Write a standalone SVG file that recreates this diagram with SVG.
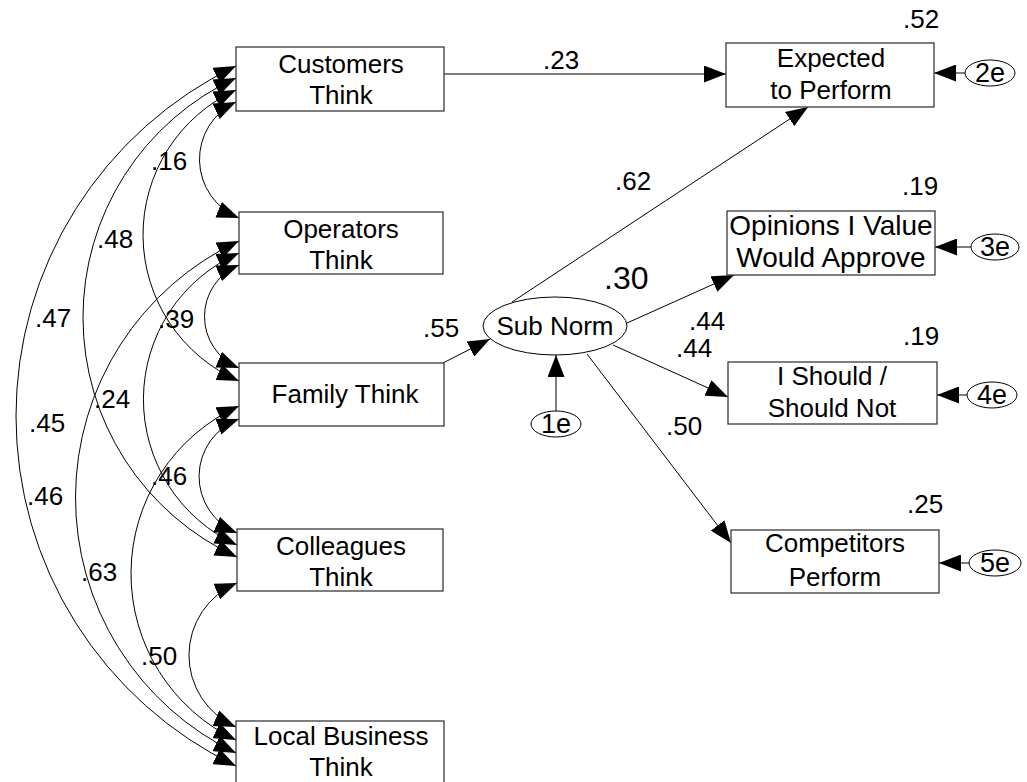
<svg xmlns="http://www.w3.org/2000/svg" width="1027" height="782" viewBox="0 0 1027 782">
  <style>
    .box { fill: #ffffff; stroke: #3a3a3a; stroke-width: 1.3; }
    .lat { fill: #ffffff; stroke: #000000; stroke-width: 1; }
    .txt { font-family: "Liberation Sans", Arial, sans-serif; font-size: 26px; fill: #000000; text-anchor: middle; }
    .wide { font-size: 28px; }
    .res { font-size: 27px; }
    .num { font-family: "Liberation Sans", Arial, sans-serif; font-size: 26px; fill: #000000; }
    .big { font-size: 32px; }
    .edge { fill: none; stroke: #000000; stroke-width: 1; }
    .arr { marker-end: url(#head); }
    .cov { marker-start: url(#head); marker-end: url(#head); }
  </style>
  <defs>
    <marker id="head" markerUnits="userSpaceOnUse" markerWidth="22" markerHeight="17" refX="22" refY="8.5" orient="auto-start-reverse" viewBox="0 0 22 17">
      <path d="M0,0 L22,8.5 L0,17 Z" fill="#000000"/>
    </marker>
  </defs>

  <rect width="1027" height="782" fill="#ffffff"/>

  <!-- connectors -->
  <g id="connectors" class="edge">
    <!-- covariances between the five belief measures -->
    <path class="cov" d="M236,102 A63.3,63.3 0 0 0 239,218"/>
    <path class="cov" d="M236,90 A159.3,159.3 0 0 0 239,381"/>
    <path class="cov" d="M236,78 A263.6,263.6 0 0 0 237,557"/>
    <path class="cov" d="M236,66 A388.4,388.4 0 0 0 236,766"/>
    <path class="cov" d="M239,265 A55.7,55.7 0 0 0 239,368"/>
    <path class="cov" d="M239,253 A160,160 0 0 0 237,545"/>
    <path class="cov" d="M239,241 A283.3,283.3 0 0 0 236,753"/>
    <path class="cov" d="M239,419 A61.2,61.2 0 0 0 237,533"/>
    <path class="cov" d="M239,406 A184.2,184.2 0 0 0 236,740"/>
    <path class="cov" d="M237,583 A78.3,78.3 0 0 0 236,727"/>

    <!-- regression paths -->
    <line class="arr" x1="444" y1="74" x2="726" y2="74"/>
    <line class="arr" x1="443" y1="363" x2="490" y2="339"/>
    <line class="arr" x1="512" y1="302" x2="808" y2="107"/>
    <line class="arr" x1="627" y1="323" x2="734" y2="275"/>
    <line class="arr" x1="613" y1="345" x2="728" y2="397"/>
    <line class="arr" x1="587" y1="354" x2="731" y2="543"/>

    <!-- residual terms -->
    <line class="arr" x1="556" y1="411" x2="556" y2="355"/>
    <line class="arr" x1="965" y1="73" x2="934" y2="73"/>
    <line class="arr" x1="971" y1="247" x2="935" y2="247"/>
    <line class="arr" x1="967" y1="395" x2="937" y2="395"/>
    <line class="arr" x1="969" y1="563" x2="939" y2="563"/>
  </g>

  <!-- observed variables, left column -->
  <g id="customers">
    <rect class="box" x="236" y="47" width="208" height="64"/>
    <text class="txt" x="341" y="73">Customers</text>
    <text class="txt" x="341" y="104">Think</text>
  </g>
  <g id="operators">
    <rect class="box" x="239" y="212" width="204" height="62"/>
    <text class="txt" x="341" y="238">Operators</text>
    <text class="txt" x="341" y="269">Think</text>
  </g>
  <g id="family">
    <rect class="box" x="239" y="363" width="205" height="63"/>
    <text class="txt" x="345" y="403">Family Think</text>
  </g>
  <g id="colleagues">
    <rect class="box" x="237" y="529" width="206" height="62"/>
    <text class="txt" x="341" y="555">Colleagues</text>
    <text class="txt" x="341" y="586">Think</text>
  </g>
  <g id="local-business">
    <rect class="box" x="236" y="721" width="208" height="66"/>
    <text class="txt" x="341" y="745">Local Business</text>
    <text class="txt" x="341" y="776">Think</text>
  </g>

  <!-- latent factor and its residual -->
  <g id="sub-norm">
    <ellipse class="lat" cx="555" cy="326" rx="72" ry="29"/>
    <text class="txt" x="555" y="335">Sub Norm</text>
  </g>
  <g id="e1">
    <ellipse class="lat" cx="556" cy="424" rx="25" ry="13"/>
    <text class="txt res" x="556" y="433">1e</text>
  </g>

  <!-- observed variables, right column -->
  <g id="expected">
    <rect class="box" x="726" y="43" width="208" height="64"/>
    <text class="txt" x="831" y="67">Expected</text>
    <text class="txt" x="831" y="99">to Perform</text>
  </g>
  <g id="opinions">
    <rect class="box" x="727" y="211" width="208" height="64"/>
    <text class="txt wide" x="831" y="235">Opinions I Value</text>
    <text class="txt wide" x="831" y="267">Would Approve</text>
  </g>
  <g id="should">
    <rect class="box" x="728" y="362" width="209" height="62"/>
    <text class="txt" x="832" y="385">I Should /</text>
    <text class="txt" x="832" y="417">Should Not</text>
  </g>
  <g id="competitors">
    <rect class="box" x="731" y="530" width="208" height="63"/>
    <text class="txt" x="835" y="552">Competitors</text>
    <text class="txt" x="835" y="586">Perform</text>
  </g>

  <!-- residuals of the right-hand measures -->
  <g id="e2">
    <ellipse class="lat" cx="990" cy="73" rx="25" ry="13"/>
    <text class="txt res" x="990" y="82">2e</text>
  </g>
  <g id="e3">
    <ellipse class="lat" cx="995" cy="247" rx="24" ry="13"/>
    <text class="txt res" x="995" y="256">3e</text>
  </g>
  <g id="e4">
    <ellipse class="lat" cx="992" cy="395" rx="25" ry="13"/>
    <text class="txt res" x="992" y="404">4e</text>
  </g>
  <g id="e5">
    <ellipse class="lat" cx="995" cy="563" rx="26" ry="13"/>
    <text class="txt res" x="995" y="572">5e</text>
  </g>

  <!-- estimates -->
  <g id="estimates" class="num">
    <text x="151" y="170">.16</text>
    <text x="97" y="248">.48</text>
    <text x="35" y="327">.47</text>
    <text x="158" y="328">.39</text>
    <text x="94" y="408">.24</text>
    <text x="29" y="432">.45</text>
    <text x="27" y="505">.46</text>
    <text x="151" y="485">.46</text>
    <text x="81" y="581">.63</text>
    <text x="141" y="665">.50</text>
    <text x="543" y="69">.23</text>
    <text x="423" y="337">.55</text>
    <text x="615" y="190">.62</text>
    <text class="big" x="604" y="289">.30</text>
    <text x="689" y="330">.44</text>
    <text x="676" y="357">.44</text>
    <text x="666" y="435">.50</text>
    <text x="903" y="28">.52</text>
    <text x="902" y="195">.19</text>
    <text x="903" y="345">.19</text>
    <text x="907" y="513">.25</text>
  </g>
</svg>
